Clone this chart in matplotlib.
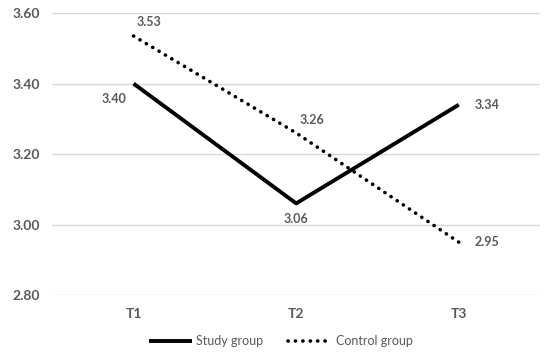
import numpy as np
import matplotlib.pyplot as plt

plt.rcParams['font.family'] = ['Lato', 'DejaVu Sans']

# data
times = ['T1', 'T2', 'T3']
study = [3.40, 3.06, 3.34]
control = [3.535, 3.26, 2.95]
study_labels = ['3.40', '3.06', '3.34']
control_labels = ['3.53', '3.26', '2.95']

gray = '#595959'
fig = plt.figure(figsize=(5.5, 3.55), dpi=100)
ax = fig.add_axes([0.095, 0.169, 0.887, 0.794])

x = np.arange(len(times))
ax.plot(x, study, color='black', lw=2.8, solid_capstyle='butt', label='Study group')
ax.plot(x, control, color='black', lw=2.6, linestyle=(0, (0.05, 2.0)),
        dash_capstyle='round', label='Control group')

# data labels
offs_s = [(-14, -11), (0, -11), (20, 0)]
offs_c = [(11, 10), (11, 9), (20, 0)]
for i in range(3):
    ax.annotate(study_labels[i], (x[i], study[i]), xytext=offs_s[i], textcoords='offset points',
                ha='center', va='center', fontsize=9, color=gray, fontweight='bold')
    ax.annotate(control_labels[i], (x[i], control[i]), xytext=offs_c[i], textcoords='offset points',
                ha='center', va='center', fontsize=9, color=gray, fontweight='bold')

ax.set_xlim(-0.5, 2.5)
ax.set_ylim(2.80, 3.60)
ax.set_yticks([2.80, 3.00, 3.20, 3.40, 3.60])
ax.set_yticklabels(['%.2f' % v for v in [2.80, 3.00, 3.20, 3.40, 3.60]])
ax.set_xticks(x)
ax.set_xticklabels(times)
ax.grid(axis='y', color='#d9d9d9', lw=1)
ax.set_axisbelow(True)
for s in ax.spines.values():
    s.set_visible(False)
ax.tick_params(length=0, labelsize=10, labelcolor=gray, pad=9)
for t in ax.get_xticklabels() + ax.get_yticklabels():
    t.set_fontweight('bold')

leg = fig.legend(loc='lower center', bbox_to_anchor=(0.51, -0.01), ncol=2, frameon=False,
                 fontsize=9, handlelength=3.5, handletextpad=0.3, columnspacing=2.0)
for t in leg.get_texts():
    t.set_color(gray)

fig.savefig('out.png', dpi=100)
